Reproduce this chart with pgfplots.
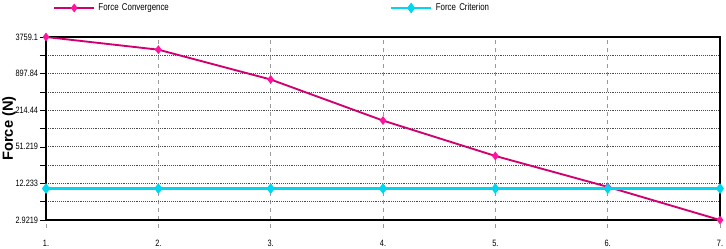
\documentclass[border=0pt]{standalone}
\usepackage{pgfplots}
\pgfplotsset{compat=1.18}
\usepackage{fontspec}
\setmainfont{Liberation Sans}
\newfontfamily\narrowfont[FakeStretch=0.8]{Liberation Sans}
\definecolor{convline}{RGB}{208,0,110}
\definecolor{convmark}{RGB}{255,20,160}
\definecolor{critline}{RGB}{0,214,240}
\begin{document}
\begin{tikzpicture}
\begin{axis}[
  scale only axis,
  width=505.5pt, height=137.25pt,
  ymode=log,
  xmin=1, xmax=7, ymin=2.9219, ymax=3759.1,
  xtick={1,2,3,4,5,6,7},
  xticklabels={1.,2.,3.,4.,5.,6.,7.},
  ytick={2.9219,12.233,51.219,214.44,897.84,3759.1},
  yticklabels={2.9219,12.233,51.219,214.44,897.84,3759.1},
  minor ytick={5.98,25.03,104.8,438.8,1837},
  tick pos=left,
  xmajorgrids, ymajorgrids, yminorgrids,
  major x grid style={gray!80, dashed, line width=0.5pt},
  major y grid style={black!70, densely dotted, line width=0.6pt},
  minor y grid style={black!70, densely dotted, line width=0.6pt},
  axis line style={black, line width=1.1pt},
  tick align=outside,
  xtick style={gray!80, dashed, line width=0.5pt, /pgfplots/major tick length=6pt},
  ytick style={black, line width=0.4pt, /pgfplots/major tick length=4.5pt, /pgfplots/minor tick length=4.5pt},
  /pgf/number format/assume math mode=true,
  tick label style={font=\narrowfont\fontsize{6.9}{7.5}\selectfont, text=black},
  yticklabel style={inner xsep=1.5pt},
  xticklabel style={yshift=-7pt},
  ylabel={\bfseries Force (N)},
  ylabel style={font=\fontsize{11}{12}\selectfont, at={(axis description cs:0,0.5)}, yshift=27.75pt, anchor=center},
  legend columns=2,
  legend style={draw=none, fill=none, inner sep=0pt, at={(0.0104,1)}, anchor=west, yshift=21.75pt,
    font=\narrowfont\fontsize{7.4}{8}\selectfont,
    nodes={inner xsep=2.5pt, inner ysep=0pt, text width=55pt, align=left},
    /tikz/every even column/.append style={column sep=161pt}},
  legend image code/.code={\draw[mark repeat=2,mark phase=2] plot coordinates {(0pt,0pt)(15pt,0pt)(30pt,0pt)};},
]
\addplot[convline, line width=1.4pt, mark=diamond*, mark size=2.2pt, mark options={fill=convmark, draw=convmark}]
  coordinates {(1,3759.1) (2,2290) (3,713) (4,143) (5,35.8) (6,10.7) (7,2.9219)};
\addlegendentry{Force Convergence}
\addplot[critline, line width=2pt, mark=diamond*, mark size=2.4pt, mark options={fill=critline, draw=critline}]
  coordinates {(1,10) (2,10) (3,10) (4,10) (5,10) (6,10) (7,10)};
\addlegendentry{Force Criterion}
\end{axis}
\pgfresetboundingbox
\path ([xshift=-34.5pt,yshift=-21pt]current axis.south west) rectangle ([xshift=4.5pt,yshift=27.75pt]current axis.north east);
\end{tikzpicture}
\end{document}
